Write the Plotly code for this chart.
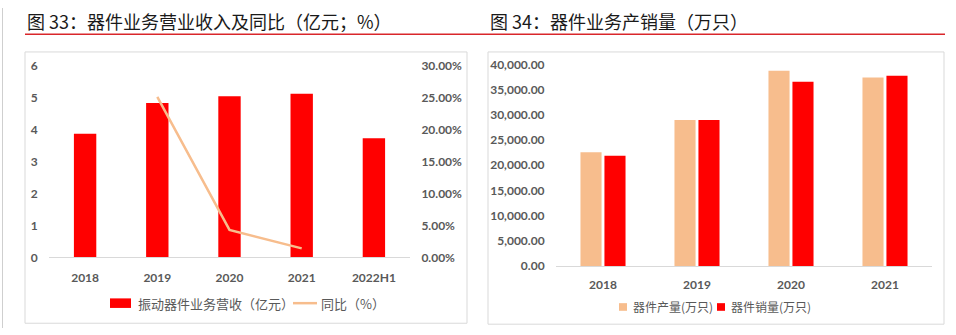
import plotly.graph_objects as go

W, H = 956, 335

# ---- data: chart 33 ----
years33 = ["2018", "2019", "2020", "2021", "2022H1"]
revenue = [3.88, 4.85, 5.06, 5.14, 3.74]
yoy_years = ["2019", "2020", "2021"]
yoy = [0.252, 0.043, 0.014]

# ---- data: chart 34 ----
years34 = ["2018", "2019", "2020", "2021"]
production = [22560, 28950, 38730, 37400]
sales = [21860, 28950, 36530, 37720]

RED = "#FF0000"
PEACH = "#F7BD8D"
GRAY_TXT = "#595959"
FRAME = "#D9D9D9"


def px(x):
    return x / W


def py(y):
    return 1 - y / H


fig = go.Figure()

fig.add_trace(go.Bar(x=years33, y=revenue, marker=dict(color=RED, line=dict(width=0)),
                     xaxis="x", yaxis="y", showlegend=False, width=0.31))
fig.add_trace(go.Scatter(x=yoy_years, y=yoy, mode="lines", line=dict(color=PEACH, width=2.5),
                         xaxis="x", yaxis="y2", showlegend=False))

fig.add_trace(go.Bar(x=years34, y=production, marker=dict(color=PEACH, line=dict(width=0)),
                     xaxis="x3", yaxis="y3", showlegend=False, offsetgroup="a"))
fig.add_trace(go.Bar(x=years34, y=sales, marker=dict(color=RED, line=dict(width=0)),
                     xaxis="x3", yaxis="y3", showlegend=False, offsetgroup="b"))

tickfont = dict(family="Lato, Open Sans, sans-serif", size=12, color=GRAY_TXT, weight="bold")

fig.update_layout(
    width=W, height=H,
    margin=dict(l=0, r=0, t=0, b=0),
    paper_bgcolor="white", plot_bgcolor="rgba(0,0,0,0)",
    barmode="group", bargap=0.49, bargroupgap=0.12,
    xaxis=dict(domain=[px(49), px(410)], anchor="y", type="category",
               showline=True, linecolor=FRAME, linewidth=1, showgrid=False,
               ticks="outside", ticklen=9, tickcolor="rgba(0,0,0,0)", tickfont=tickfont,
               fixedrange=True),
    yaxis=dict(domain=[py(261), py(61)], range=[0, 6], dtick=1, showgrid=False, zeroline=False,
               ticks="outside", ticklen=8, tickcolor="rgba(0,0,0,0)", tickfont=tickfont),
    yaxis2=dict(overlaying="y", side="right", anchor="x", range=[0, 0.30], dtick=0.05,
                tickformat=".2%", showgrid=False, zeroline=False,
                ticks="outside", ticklen=8, tickcolor="rgba(0,0,0,0)", tickfont=tickfont),
    xaxis3=dict(domain=[px(556), px(932)], anchor="y3", type="category",
                showline=True, linecolor=FRAME, linewidth=1, showgrid=False,
                ticks="outside", ticklen=8, tickcolor="rgba(0,0,0,0)", tickfont=tickfont),
    yaxis3=dict(domain=[py(270), py(59)], anchor="x3", range=[0, 40000], dtick=5000,
                tickformat=",.2f", showgrid=False, zeroline=False,
                ticks="outside", ticklen=8, tickcolor="rgba(0,0,0,0)", tickfont=tickfont),
)

shapes = []
# page border on left
shapes.append(dict(type="line", xref="paper", yref="paper", x0=px(2.5), x1=px(2.5), y0=0, y1=1,
                   line=dict(color="#CFCFCF", width=1)))
# red rule under titles
shapes.append(dict(type="line", xref="paper", yref="paper", x0=px(25), x1=px(945), y0=py(27.5), y1=py(27.5),
                   line=dict(color="#D9262B", width=1.6)))
# chart frames
shapes.append(dict(type="rect", xref="paper", yref="paper", x0=px(25), x1=px(467), y0=py(330), y1=py(46),
                   line=dict(color=FRAME, width=1)))
shapes.append(dict(type="rect", xref="paper", yref="paper", x0=px(488), x1=px(944), y0=py(331), y1=py(46),
                   line=dict(color=FRAME, width=1)))
# legend swatches
shapes.append(dict(type="rect", xref="paper", yref="paper", x0=px(110), x1=px(131), y0=py(314), y1=py(304),
                   fillcolor=RED, line=dict(width=0)))
shapes.append(dict(type="line", xref="paper", yref="paper", x0=px(293), x1=px(317), y0=py(309), y1=py(309),
                   line=dict(color=PEACH, width=2.5)))
shapes.append(dict(type="rect", xref="paper", yref="paper", x0=px(619), x1=px(627), y0=py(317), y1=py(309),
                   fillcolor=PEACH, line=dict(width=0)))
shapes.append(dict(type="rect", xref="paper", yref="paper", x0=px(717), x1=px(725), y0=py(317), y1=py(309),
                   fillcolor=RED, line=dict(width=0)))
fig.update_layout(shapes=shapes)

title_font = dict(family="Noto Sans CJK SC", size=18, color="#1A1A1A")
leg_font = dict(family="Noto Sans CJK SC", size=13, color=GRAY_TXT)
leg_font2 = dict(family="Noto Sans CJK SC", size=12, color=GRAY_TXT)

ann = [
    dict(text="图 33：器件业务营业收入及同比（亿元；%）", x=px(25), y=py(14), xanchor="left", yanchor="middle",
         font=title_font),
    dict(text="图 34：器件业务产销量（万只）", x=px(488), y=py(14), xanchor="left", yanchor="middle",
         font=title_font),
    dict(text="振动器件业务营收（亿元）", x=px(136), y=py(309), xanchor="left", yanchor="middle", font=leg_font),
    dict(text="同比（%）", x=px(319), y=py(309), xanchor="left", yanchor="middle", font=leg_font),
    dict(text="器件产量(万只)", x=px(631), y=py(313), xanchor="left", yanchor="middle", font=leg_font2),
    dict(text="器件销量(万只)", x=px(729), y=py(313), xanchor="left", yanchor="middle", font=leg_font2),
]
for a in ann:
    a.update(xref="paper", yref="paper", showarrow=False)
fig.update_layout(annotations=ann)

fig.write_html("out.html")
